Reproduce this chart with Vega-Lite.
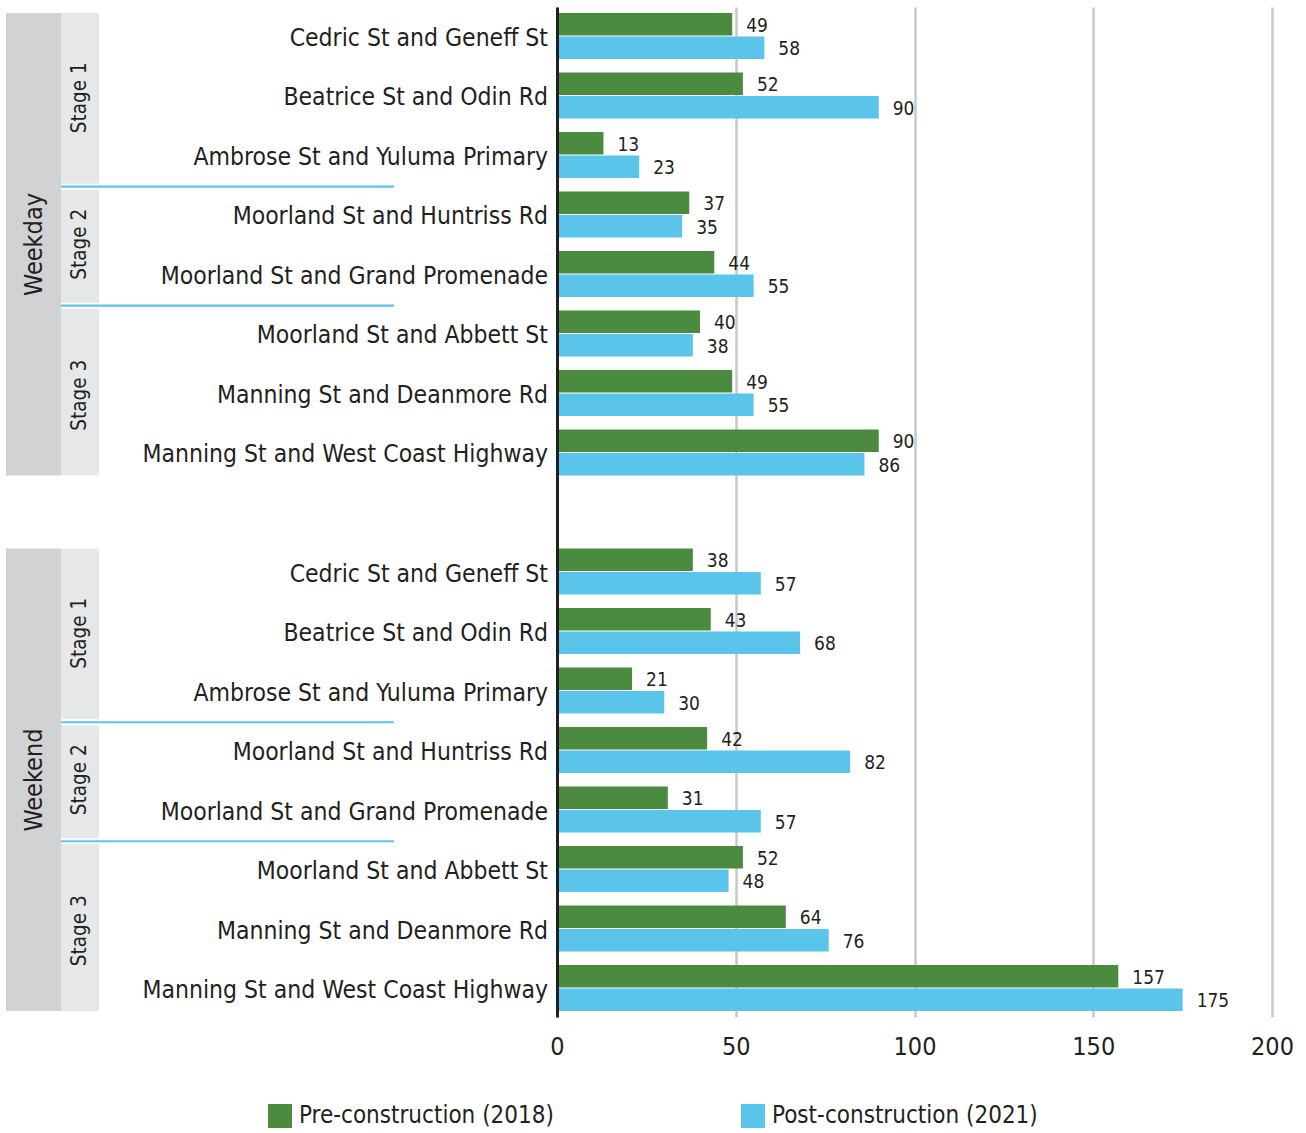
{
  "$schema": "https://vega.github.io/schema/vega-lite/v6.json",
  "background": "white",
  "padding": {"left": 6, "top": 7, "right": 0, "bottom": 0},
  "config": {
    "view": {"stroke": null},
    "font": "DejaVu Sans Condensed, Liberation Sans Narrow, sans-serif"
  },
  "datasets": {
    "bars": [
      {"day": "Weekday", "stage": "Stage 1", "site": "Cedric St and Geneff St", "row": "Weekday|Cedric St and Geneff St", "period": "Pre-construction (2018)", "count": 49},
      {"day": "Weekday", "stage": "Stage 1", "site": "Cedric St and Geneff St", "row": "Weekday|Cedric St and Geneff St", "period": "Post-construction (2021)", "count": 58},
      {"day": "Weekday", "stage": "Stage 1", "site": "Beatrice St and Odin Rd", "row": "Weekday|Beatrice St and Odin Rd", "period": "Pre-construction (2018)", "count": 52},
      {"day": "Weekday", "stage": "Stage 1", "site": "Beatrice St and Odin Rd", "row": "Weekday|Beatrice St and Odin Rd", "period": "Post-construction (2021)", "count": 90},
      {"day": "Weekday", "stage": "Stage 1", "site": "Ambrose St and Yuluma Primary", "row": "Weekday|Ambrose St and Yuluma Primary", "period": "Pre-construction (2018)", "count": 13},
      {"day": "Weekday", "stage": "Stage 1", "site": "Ambrose St and Yuluma Primary", "row": "Weekday|Ambrose St and Yuluma Primary", "period": "Post-construction (2021)", "count": 23},
      {"day": "Weekday", "stage": "Stage 2", "site": "Moorland St and Huntriss Rd", "row": "Weekday|Moorland St and Huntriss Rd", "period": "Pre-construction (2018)", "count": 37},
      {"day": "Weekday", "stage": "Stage 2", "site": "Moorland St and Huntriss Rd", "row": "Weekday|Moorland St and Huntriss Rd", "period": "Post-construction (2021)", "count": 35},
      {"day": "Weekday", "stage": "Stage 2", "site": "Moorland St and Grand Promenade", "row": "Weekday|Moorland St and Grand Promenade", "period": "Pre-construction (2018)", "count": 44},
      {"day": "Weekday", "stage": "Stage 2", "site": "Moorland St and Grand Promenade", "row": "Weekday|Moorland St and Grand Promenade", "period": "Post-construction (2021)", "count": 55},
      {"day": "Weekday", "stage": "Stage 3", "site": "Moorland St and Abbett St", "row": "Weekday|Moorland St and Abbett St", "period": "Pre-construction (2018)", "count": 40},
      {"day": "Weekday", "stage": "Stage 3", "site": "Moorland St and Abbett St", "row": "Weekday|Moorland St and Abbett St", "period": "Post-construction (2021)", "count": 38},
      {"day": "Weekday", "stage": "Stage 3", "site": "Manning St and Deanmore Rd", "row": "Weekday|Manning St and Deanmore Rd", "period": "Pre-construction (2018)", "count": 49},
      {"day": "Weekday", "stage": "Stage 3", "site": "Manning St and Deanmore Rd", "row": "Weekday|Manning St and Deanmore Rd", "period": "Post-construction (2021)", "count": 55},
      {"day": "Weekday", "stage": "Stage 3", "site": "Manning St and West Coast Highway", "row": "Weekday|Manning St and West Coast Highway", "period": "Pre-construction (2018)", "count": 90},
      {"day": "Weekday", "stage": "Stage 3", "site": "Manning St and West Coast Highway", "row": "Weekday|Manning St and West Coast Highway", "period": "Post-construction (2021)", "count": 86},
      {"day": "Weekend", "stage": "Stage 1", "site": "Cedric St and Geneff St", "row": "Weekend|Cedric St and Geneff St", "period": "Pre-construction (2018)", "count": 38},
      {"day": "Weekend", "stage": "Stage 1", "site": "Cedric St and Geneff St", "row": "Weekend|Cedric St and Geneff St", "period": "Post-construction (2021)", "count": 57},
      {"day": "Weekend", "stage": "Stage 1", "site": "Beatrice St and Odin Rd", "row": "Weekend|Beatrice St and Odin Rd", "period": "Pre-construction (2018)", "count": 43},
      {"day": "Weekend", "stage": "Stage 1", "site": "Beatrice St and Odin Rd", "row": "Weekend|Beatrice St and Odin Rd", "period": "Post-construction (2021)", "count": 68},
      {"day": "Weekend", "stage": "Stage 1", "site": "Ambrose St and Yuluma Primary", "row": "Weekend|Ambrose St and Yuluma Primary", "period": "Pre-construction (2018)", "count": 21},
      {"day": "Weekend", "stage": "Stage 1", "site": "Ambrose St and Yuluma Primary", "row": "Weekend|Ambrose St and Yuluma Primary", "period": "Post-construction (2021)", "count": 30},
      {"day": "Weekend", "stage": "Stage 2", "site": "Moorland St and Huntriss Rd", "row": "Weekend|Moorland St and Huntriss Rd", "period": "Pre-construction (2018)", "count": 42},
      {"day": "Weekend", "stage": "Stage 2", "site": "Moorland St and Huntriss Rd", "row": "Weekend|Moorland St and Huntriss Rd", "period": "Post-construction (2021)", "count": 82},
      {"day": "Weekend", "stage": "Stage 2", "site": "Moorland St and Grand Promenade", "row": "Weekend|Moorland St and Grand Promenade", "period": "Pre-construction (2018)", "count": 31},
      {"day": "Weekend", "stage": "Stage 2", "site": "Moorland St and Grand Promenade", "row": "Weekend|Moorland St and Grand Promenade", "period": "Post-construction (2021)", "count": 57},
      {"day": "Weekend", "stage": "Stage 3", "site": "Moorland St and Abbett St", "row": "Weekend|Moorland St and Abbett St", "period": "Pre-construction (2018)", "count": 52},
      {"day": "Weekend", "stage": "Stage 3", "site": "Moorland St and Abbett St", "row": "Weekend|Moorland St and Abbett St", "period": "Post-construction (2021)", "count": 48},
      {"day": "Weekend", "stage": "Stage 3", "site": "Manning St and Deanmore Rd", "row": "Weekend|Manning St and Deanmore Rd", "period": "Pre-construction (2018)", "count": 64},
      {"day": "Weekend", "stage": "Stage 3", "site": "Manning St and Deanmore Rd", "row": "Weekend|Manning St and Deanmore Rd", "period": "Post-construction (2021)", "count": 76},
      {"day": "Weekend", "stage": "Stage 3", "site": "Manning St and West Coast Highway", "row": "Weekend|Manning St and West Coast Highway", "period": "Pre-construction (2018)", "count": 157},
      {"day": "Weekend", "stage": "Stage 3", "site": "Manning St and West Coast Highway", "row": "Weekend|Manning St and West Coast Highway", "period": "Post-construction (2021)", "count": 175}
    ],
    "groups": [
      {"day": "Weekday", "first": "Weekday|Cedric St and Geneff St", "last": "Weekday|Manning St and West Coast Highway"},
      {"day": "Weekend", "first": "Weekend|Cedric St and Geneff St", "last": "Weekend|Manning St and West Coast Highway"}
    ],
    "boundaries": [
      {"row": "Weekday|Ambrose St and Yuluma Primary"},
      {"row": "Weekday|Moorland St and Grand Promenade"},
      {"row": "Weekend|Ambrose St and Yuluma Primary"},
      {"row": "Weekend|Moorland St and Grand Promenade"}
    ],
    "stageMid": [
      {"label": "Stage 1", "row": "Weekday|Beatrice St and Odin Rd"},
      {"label": "Stage 3", "row": "Weekday|Manning St and Deanmore Rd"},
      {"label": "Stage 1", "row": "Weekend|Beatrice St and Odin Rd"},
      {"label": "Stage 3", "row": "Weekend|Manning St and Deanmore Rd"}
    ],
    "stageGap": [
      {"label": "Stage 2", "row": "Weekday|Moorland St and Huntriss Rd"},
      {"label": "Stage 2", "row": "Weekend|Moorland St and Huntriss Rd"}
    ],
    "days": [
      {"label": "Weekday", "row": "Weekday|Moorland St and Huntriss Rd"},
      {"label": "Weekend", "row": "Weekend|Moorland St and Huntriss Rd"}
    ]
  },
  "spacing": 0,
  "bounds": "flush",
  "resolve": {"scale": {"color": "shared"}, "legend": {"color": "shared"}},
  "hconcat": [
    {
      "width": 551,
      "height": 1010,
      "layer": [
        {
          "data": {"name": "groups"},
          "mark": {"type": "rect", "color": "#d1d2d4"},
          "encoding": {
            "x": {"datum": 0, "type": "quantitative", "scale": {"domain": [0, 551], "nice": false, "zero": false}, "axis": null},
            "x2": {"datum": 55},
            "y": {"field": "first", "type": "nominal", "bandPosition": 0.001, "axis": null,
                  "scale": {"paddingInner": 0.227, "paddingOuter": 0.1, "domain": ["Weekday|Cedric St and Geneff St","Weekday|Beatrice St and Odin Rd","Weekday|Ambrose St and Yuluma Primary","Weekday|Moorland St and Huntriss Rd","Weekday|Moorland St and Grand Promenade","Weekday|Moorland St and Abbett St","Weekday|Manning St and Deanmore Rd","Weekday|Manning St and West Coast Highway","gap","Weekend|Cedric St and Geneff St","Weekend|Beatrice St and Odin Rd","Weekend|Ambrose St and Yuluma Primary","Weekend|Moorland St and Huntriss Rd","Weekend|Moorland St and Grand Promenade","Weekend|Moorland St and Abbett St","Weekend|Manning St and Deanmore Rd","Weekend|Manning St and West Coast Highway"]}},
            "y2": {"field": "last"}
          }
        },
        {
          "data": {"name": "groups"},
          "mark": {"type": "rect", "color": "#d1d2d4"},
          "encoding": {
            "x": {"datum": 0, "type": "quantitative"},
            "x2": {"datum": 55},
            "y": {"field": "last", "type": "nominal", "bandPosition": 1},
            "y2": {"field": "first"}
          }
        },
        {
          "data": {"name": "groups"},
          "mark": {"type": "rect", "color": "#e6e7e8"},
          "encoding": {
            "x": {"datum": 55, "type": "quantitative"},
            "x2": {"datum": 93},
            "y": {"field": "first", "type": "nominal", "bandPosition": 0.001},
            "y2": {"field": "last"}
          }
        },
        {
          "data": {"name": "groups"},
          "mark": {"type": "rect", "color": "#e6e7e8"},
          "encoding": {
            "x": {"datum": 55, "type": "quantitative"},
            "x2": {"datum": 93},
            "y": {"field": "last", "type": "nominal", "bandPosition": 1},
            "y2": {"field": "first"}
          }
        },
        {
          "data": {"name": "boundaries"},
          "mark": {"type": "rule", "color": "white", "strokeWidth": 6},
          "encoding": {
            "x": {"datum": 55, "type": "quantitative"},
            "x2": {"datum": 93},
            "y": {"field": "row", "type": "nominal", "bandPosition": 1.19}
          }
        },
        {
          "data": {"name": "boundaries"},
          "mark": {"type": "rule", "color": "#5bc4ea", "strokeWidth": 2.2},
          "encoding": {
            "x": {"datum": 55, "type": "quantitative"},
            "x2": {"datum": 388},
            "y": {"field": "row", "type": "nominal", "bandPosition": 1.19}
          }
        },
        {
          "data": {"name": "bars"},
          "transform": [{"filter": "datum.period === 'Pre-construction (2018)'"}],
          "mark": {"type": "text", "align": "right", "baseline": "middle", "fontSize": 24.5, "dy": 3, "color": "#231f20"},
          "encoding": {
            "x": {"datum": 542, "type": "quantitative"},
            "y": {"field": "row", "type": "nominal"},
            "text": {"field": "site", "type": "nominal"}
          }
        },
        {
          "data": {"name": "stageMid"},
          "mark": {"type": "text", "align": "center", "baseline": "middle", "angle": 270, "fontSize": 20.5, "color": "#231f20"},
          "encoding": {
            "x": {"datum": 74, "type": "quantitative"},
            "y": {"field": "row", "type": "nominal", "bandPosition": 0.55},
            "text": {"field": "label", "type": "nominal"}
          }
        },
        {
          "data": {"name": "stageGap"},
          "mark": {"type": "text", "align": "center", "baseline": "middle", "angle": 270, "fontSize": 20.5, "color": "#231f20"},
          "encoding": {
            "x": {"datum": 74, "type": "quantitative"},
            "y": {"field": "row", "type": "nominal", "bandPosition": 1.147},
            "text": {"field": "label", "type": "nominal"}
          }
        },
        {
          "data": {"name": "days"},
          "mark": {"type": "text", "align": "center", "baseline": "middle", "angle": 270, "fontSize": 25, "color": "#231f20"},
          "encoding": {
            "x": {"datum": 28, "type": "quantitative"},
            "y": {"field": "row", "type": "nominal", "bandPosition": 1.152},
            "text": {"field": "label", "type": "nominal"}
          }
        }
      ]
    },
    {
      "width": 715,
      "height": 1010,
      "data": {"name": "bars"},
      "encoding": {
        "y": {"field": "row", "type": "nominal",
              "scale": {"paddingInner": 0.227, "paddingOuter": 0.1, "domain": ["Weekday|Cedric St and Geneff St","Weekday|Beatrice St and Odin Rd","Weekday|Ambrose St and Yuluma Primary","Weekday|Moorland St and Huntriss Rd","Weekday|Moorland St and Grand Promenade","Weekday|Moorland St and Abbett St","Weekday|Manning St and Deanmore Rd","Weekday|Manning St and West Coast Highway","gap","Weekend|Cedric St and Geneff St","Weekend|Beatrice St and Odin Rd","Weekend|Ambrose St and Yuluma Primary","Weekend|Moorland St and Huntriss Rd","Weekend|Moorland St and Grand Promenade","Weekend|Moorland St and Abbett St","Weekend|Manning St and Deanmore Rd","Weekend|Manning St and West Coast Highway"]},
              "axis": {"labels": false, "ticks": false, "title": null, "grid": false, "domain": true, "domainColor": "#231f20", "domainWidth": 3, "zindex": 1}},
        "yOffset": {"field": "period", "type": "nominal",
                    "scale": {"domain": ["Pre-construction (2018)", "Post-construction (2021)"], "paddingInner": 0.04, "paddingOuter": 0}},
        "x": {"field": "count", "type": "quantitative",
              "scale": {"domain": [0, 200], "nice": false},
              "axis": {"values": [0, 50, 100, 150, 200], "grid": true, "gridColor": "#c8c8c8", "gridWidth": 2.5, "domain": false, "ticks": false, "labelFontSize": 25, "labelPadding": 17, "labelColor": "#231f20", "labelFlush": false, "labelOverlap": false, "title": null}}
      },
      "layer": [
        {
          "mark": {"type": "bar"},
          "encoding": {
            "color": {"field": "period", "type": "nominal",
                      "scale": {"domain": ["Pre-construction (2018)", "Post-construction (2021)"], "range": ["#4b8b3f", "#5bc4ea"]},
                      "legend": {"title": null, "orient": "none", "legendX": 262, "legendY": 1097, "direction": "horizontal", "symbolType": "square", "symbolSize": 576, "symbolStrokeWidth": 0, "labelFontSize": 24, "labelColor": "#231f20", "labelLimit": 400, "labelOffset": 7, "columnPadding": 187, "padding": 0}}
          }
        },
        {
          "mark": {"type": "text", "align": "left", "baseline": "middle", "dx": 14, "dy": 1.5, "fontSize": 19, "color": "#231f20"},
          "encoding": {
            "text": {"field": "count", "type": "quantitative"}
          }
        }
      ]
    }
  ]
}
